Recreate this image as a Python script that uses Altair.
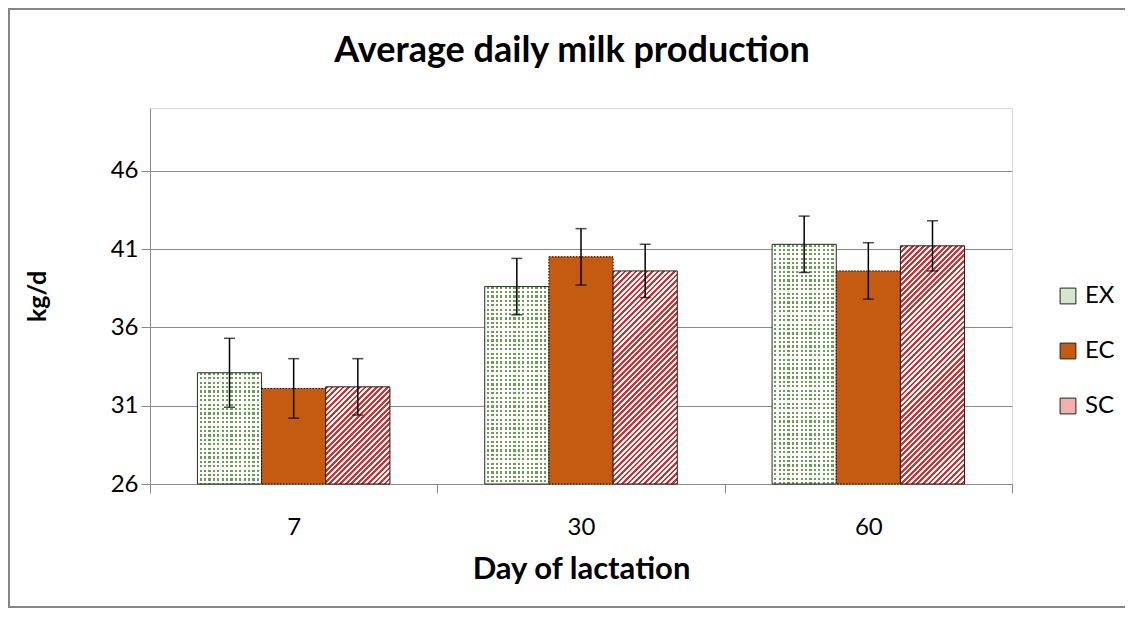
import math
import altair as alt
import pandas as pd

# ---------------- data ----------------
days = ["7", "30", "60"]
series = ["EX", "EC", "SC"]
ex_mean = [33.1, 38.6, 41.3]
ex_err = [2.2, 1.8, 1.8]
ec_mean = [32.1, 40.5, 39.6]
ec_err = [1.9, 1.8, 1.8]
sc_mean = [32.2, 39.6, 41.2]
sc_err = [1.8, 1.7, 1.6]
y_ticks = [26, 31, 36, 41, 46]

rows = []
for s, means, errs in [("EX", ex_mean, ex_err), ("EC", ec_mean, ec_err), ("SC", sc_mean, sc_err)]:
    for d, m, e in zip(days, means, errs):
        rows.append({"day": d, "series": s, "mean": m, "lo": m - e, "hi": m + e})
df = pd.DataFrame(rows)

# ---------------- layout / style ----------------
W, H = 862, 376
Y0, Y1 = 26, 50
PAD_L, PAD_T, PAD_R, PAD_B = 142, 100, 113, 124
OFF_PAD = 0.739
STEP = W / 3
BAR_W = STEP / (3 + 2 * OFF_PAD)
FONT = "Lato"
GRAY = "#8a8a8a"
EC_COL = "#c55a11"
GREEN = "#6a9f52"
RED = "#d92e2e"
EX_AVG = "#d6e6cc"
SC_AVG = "#f1b0b0"

x_enc = alt.X(
    "day:N", sort=days,
    scale=alt.Scale(paddingInner=0, paddingOuter=0),
    axis=alt.Axis(
        title="Day of lactation", tickBand="extent", tickSize=9, tickColor=GRAY,
        domainColor=GRAY, domainWidth=1, labelAngle=0, labelFont=FONT,
        labelFontSize=24, labelColor="#000", labelPadding=22, titleFont=FONT,
        titleFontSize=31, titleFontWeight="bold", titleColor="#000", titlePadding=15,
        grid=False,
    ),
)
xo_enc = alt.XOffset("series:N", sort=series,
                     scale=alt.Scale(paddingInner=0, paddingOuter=OFF_PAD))
y_enc = alt.Y(
    "mean:Q",
    scale=alt.Scale(domain=[Y0, Y1], nice=False, zero=False),
    axis=alt.Axis(
        values=y_ticks, title="kg/d", tickSize=9, tickColor=GRAY, domainColor=GRAY,
        gridColor=GRAY, grid=True, gridWidth=1, labelFont=FONT, labelFontSize=24,
        labelColor="#000", labelPadding=3, titleFont=FONT, titleFontSize=25,
        titleFontWeight="bold", titleColor="#000", titlePadding=60,
    ),
)


def stripes(c_on, c_off, n, frac, x1, y1, x2, y2):
    stops = []
    k = 0
    while True:
        a = k / n
        b = (k + frac) / n
        c = (k + 1) / n
        if a >= 1:
            break
        stops.append({"offset": a, "color": c_on})
        stops.append({"offset": min(b, 1), "color": c_on})
        if b < 1:
            stops.append({"offset": b, "color": c_off})
            stops.append({"offset": min(c, 1), "color": c_off})
        k += 1
    return {"gradient": "linear", "x1": x1, "y1": y1, "x2": x2, "y2": y2, "stops": stops}


def bar_height(v):
    return (v - Y0) / (Y1 - Y0) * H


base = alt.Chart(df).mark_bar(strokeWidth=0).encode(
    x=x_enc, xOffset=xo_enc, y=y_enc, y2=alt.datum(Y0),
    fill=alt.Fill(
        "series:N", sort=series,
        scale=alt.Scale(domain=series, range=[EX_AVG, EC_COL, SC_AVG]),
        legend=alt.Legend(
            title=None, orient="none", legendX=906, legendY=176, symbolType="square",
            symbolSize=250, symbolStrokeColor="#222", symbolStrokeWidth=1,
            labelFont=FONT, labelFontSize=24, labelColor="#000", labelOffset=5,
            rowPadding=31, padding=0,
        ),
    ),
)

layers = [base]

# EX: dotted pattern (green rows masked by white columns)
for d, m in zip(days, ex_mean):
    h = bar_height(m)
    rows_g = stripes(GREEN, "#ffffff", h / 4.4, 0.5, 0, 0, 0, 1)
    cols_g = stripes("#ffffff", "rgba(255,255,255,0)", BAR_W / 4.4, 0.5, 0, 0, 1, 0)
    sub = df[(df.series == "EX") & (df.day == d)]
    layers.append(alt.Chart(sub).mark_bar(fill=rows_g, strokeWidth=0).encode(
        x=x_enc, xOffset=xo_enc, y=y_enc, y2=alt.datum(Y0)))
    layers.append(alt.Chart(sub).mark_bar(fill=cols_g, stroke="#2b2b2b", strokeWidth=1).encode(
        x=x_enc, xOffset=xo_enc, y=y_enc, y2=alt.datum(Y0)))

# EC: solid with dotted border
layers.append(alt.Chart(df[df.series == "EC"]).mark_bar(
    fill=EC_COL, stroke="#000", strokeWidth=1, strokeDash=[1.5, 1.5]).encode(
    x=x_enc, xOffset=xo_enc, y=y_enc, y2=alt.datum(Y0)))

# SC: diagonal red stripes
for d, m in zip(days, sc_mean):
    h = bar_height(m)
    r = BAR_W / h
    b = (1 + r) / (1 + r * r)
    a = r * b
    n = (BAR_W + h) / math.sqrt(2) / 3.9
    g = stripes(RED, "#ffffff", n, 0.5, 0, 0, a, b)
    sub = df[(df.series == "SC") & (df.day == d)]
    layers.append(alt.Chart(sub).mark_bar(fill=g, stroke="#1a1a1a", strokeWidth=1).encode(
        x=x_enc, xOffset=xo_enc, y=y_enc, y2=alt.datum(Y0)))

# error bars
err_rule = alt.Chart(df).mark_rule(color="#000", strokeWidth=1.5).encode(
    x=x_enc, xOffset=xo_enc, y="lo:Q", y2="hi:Q")
cap_lo = alt.Chart(df).mark_tick(color="#000", thickness=1.5, size=11, orient="horizontal").encode(
    x=x_enc, xOffset=xo_enc, y=alt.Y("lo:Q"))
cap_hi = alt.Chart(df).mark_tick(color="#000", thickness=1.5, size=11, orient="horizontal").encode(
    x=x_enc, xOffset=xo_enc, y=alt.Y("hi:Q"))
layers += [err_rule, cap_lo, cap_hi]

# outer chart border
border = alt.Chart(df.head(1)).mark_rect(fill=None, stroke="#868686", strokeWidth=2).encode(
    x=alt.value(-PAD_L + 1), x2=alt.value(W + PAD_R + 20),
    y=alt.value(-PAD_T + 1), y2=alt.value(H + PAD_B - 1))
layers.append(border)

chart = alt.layer(*layers).properties(
    width=W, height=H,
    title=alt.TitleParams(
        "Average daily milk production", font=FONT, fontSize=36, fontWeight="bold",
        color="#000", anchor="middle", frame="group", offset=-62, dx=-9,
    ),
    autosize=alt.AutoSizeParams(type="none"),
    padding={"left": PAD_L, "top": PAD_T, "right": PAD_R, "bottom": PAD_B},
).configure_view(stroke=None).configure(background="#ffffff")

chart.save("out.html", embed_options={"renderer": "svg", "actions": False})
